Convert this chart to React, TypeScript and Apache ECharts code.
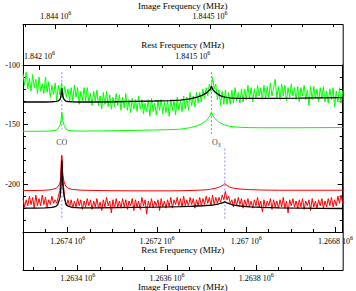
import React, { useEffect, useRef } from "react";
import * as echarts from "echarts";

const W = 356;
const H = 291;
const FONT = "Liberation Serif";
const INK = "#000000";
const GREEN = "#00ff00";
const RED = "#ff0000";
const BLACK = "#000000";
const MARK_BLUE = "#8a8aff";

// ---- axes (MHz for x, intensity for y) ----
const REST_LOW_RANGE = [1266784, 1267500];
const IMAGE_LOW_RANGE = [1263277.5, 1263993.5];
const REST_HIGH_RANGE = [1841010, 1842054];
const IMAGE_HIGH_RANGE = [1843894, 1844930];
const REST_LOW_MAJOR = [1267400, 1267200, 1267000, 1266800];
const IMAGE_LOW_MAJOR = [1263400, 1263600, 1263800];
const REST_HIGH_MAJOR = [1842000, 1841500];
const IMAGE_HIGH_MAJOR = [1844000, 1844500];
const REST_LOW_STEP = 50;
const IMAGE_LOW_STEP = 50;
const REST_HIGH_STEP = 100;
const IMAGE_HIGH_STEP = 100;
const Y_RANGE = [-240, -100];
const Y_MAJOR = [-200, -150, -100];
const Y_STEP = 10;

// ---- line identifications (rest frequency, lower axis) ----
const CO_FREQ = 1267413;
const O3_FREQ = 1267078;
const O3_IMAGE_FREQ = 1267048;
const CO_MARK_UPPER = [-106, -154];
const CO_MARK_LOWER = [-176, -230];
const O3_MARK_UPPER = [-106, -159];
const O3_MARK_LOWER = [-170, -230];
const LABEL_Y = -164.7;

// ---- smooth curves, sampled on a shared frequency list ----
const SMOOTH_F = [
  1267500, 1267473, 1267451, 1267435, 1267426, 1267422, 1267417, 1267415, 1267413, 1267411,
  1267408, 1267404, 1267399, 1267390, 1267372, 1267339, 1267294, 1267249, 1267205, 1267171,
  1267148, 1267126, 1267110, 1267099, 1267090, 1267086, 1267081, 1267078, 1267075, 1267070,
  1267063, 1267057, 1267052, 1267048, 1267043, 1267037, 1267028, 1267014, 1266992, 1266965,
  1266925, 1266880, 1266835, 1266784,
];
const BLACK_UPPER = [
  -131, -131, -131, -130.8, -130.5, -130.2, -129, -126, -119.5, -126,
  -129, -130.3, -130.6, -130.8, -131, -131, -130.8, -130.5, -130.2, -129.8,
  -129.4, -128.4, -127, -125.5, -123.6, -122.3, -120.6, -117.8, -120.4, -122.6,
  -124.6, -125.9, -126.5, -126.9, -127.2, -127.5, -127.8, -128, -128, -128,
  -127.9, -127.8, -127.6, -127.4,
];
const GREEN_SMOOTH = [
  -155.6, -155.6, -155.5, -155.2, -154.6, -153.6, -150.5, -146.5, -139.7, -146.5,
  -150.5, -153.6, -154.7, -155.2, -155.4, -155.3, -155.1, -154.8, -154.5, -154.2,
  -153.8, -152.6, -151, -149.2, -146.8, -145, -142.6, -139.2, -142.4, -144.8,
  -147.3, -148.9, -149.7, -150.3, -150.8, -151.3, -151.8, -152.2, -152.5, -152.6,
  -152.6, -152.6, -152.5, -152.4,
];
const RED_SMOOTH = [
  -205.3, -205.2, -205, -204.4, -203.4, -202.2, -199, -194, -176, -192,
  -198, -201.8, -203.3, -204.3, -204.9, -205.2, -205.4, -205.5, -205.5, -205.5,
  -205.4, -205.2, -205, -204.8, -204.6, -204.4, -204.2, -204, -203.8, -203.4,
  -202.7, -201.7, -200.8, -199.4, -201, -202.4, -203.3, -204, -204.5, -204.8,
  -205, -205, -205, -205,
];
const BLACK_LOWER = [
  -220, -220, -219.8, -219.4, -218.5, -216.8, -211, -202, -180, -200,
  -210, -216.5, -218.4, -219.3, -219.7, -219.8, -219.6, -219.4, -219.2, -219,
  -218.8, -218.5, -218.2, -218, -217.8, -217.7, -217.6, -217.5, -217.4, -217.1,
  -216.6, -215.9, -215.4, -214.8, -215.6, -216.5, -217.4, -218.2, -218.9, -219.4,
  -219.8, -220, -220.2, -220.3,
];

// ---- observed (noisy) spectra, evenly spaced channels from 1267500 to 1266784 MHz ----
const CHANNEL_F_START = 1267500;
const CHANNEL_F_END = 1266784;
const GREEN_NOISE = [
  -107, -117, -106, -120, -111, -122, -108, -119, -112, -124,
  -110, -122, -116, -124, -110, -123, -114, -127, -117, -125,
  -115, -130, -117, -125, -115, -128, -118, -127, -120, -130,
  -119, -130, -117, -127, -119, -133, -122, -130, -119, -130,
  -119, -131, -124, -134, -122, -130, -121, -134, -126, -137,
  -123, -133, -122, -135, -125, -137, -127, -135, -124, -134,
  -125, -138, -127, -136, -124, -138, -129, -140, -128, -137,
  -129, -139, -126, -137, -129, -141, -132, -139, -129, -143,
  -128, -139, -132, -142, -130, -138, -129, -141, -131, -140,
  -130, -143, -129, -138, -130, -142, -127, -138, -130, -139,
  -126, -137, -127, -138, -123, -134, -126, -135, -123, -132,
  -123, -131, -120, -128, -119, -126, -116, -122, -110, -120,
  -116, -129, -121, -134, -122, -133, -121, -133, -123, -133,
  -121, -132, -119, -130, -123, -132, -120, -131, -120, -129,
  -117, -128, -119, -131, -120, -128, -117, -126, -119, -129,
  -117, -128, -118, -127, -115, -126, -119, -112, -128, -118,
  -129, -116, -126, -117, -130, -119, -127, -116, -126, -119,
  -129, -118, -131, -119, -126, -117, -129, -121, -134, -118,
  -129, -118, -128, -120, -131, -119, -128, -118, -131, -122,
  -132, -120, -129, -119, -135, -122, -131, -119, -132, -122,
];
const RED_NOISE = [
  -212, -219, -213, -218, -210, -217, -211, -220, -209, -218,
  -212, -218, -209, -217, -211, -219, -213, -217, -210, -216,
  -213, -216, -210, -205, -176, -198, -212, -218, -213, -219,
  -213, -220, -214, -219, -212, -218, -213, -221, -214, -219,
  -212, -218, -213, -221, -214, -219, -212, -220, -215, -222,
  -213, -219, -211, -218, -214, -224, -213, -220, -212, -219,
  -214, -220, -212, -219, -213, -221, -214, -218, -212, -222,
  -213, -219, -214, -221, -211, -218, -213, -225, -214, -219,
  -212, -220, -214, -218, -213, -222, -212, -219, -214, -220,
  -213, -219, -211, -220, -213, -217, -211, -218, -212, -219,
  -210, -218, -213, -219, -211, -217, -212, -220, -213, -218,
  -211, -218, -212, -217, -210, -216, -211, -218, -209, -217,
  -211, -216, -211, -215, -209, -213, -206, -213, -210, -216,
  -213, -219, -212, -218, -211, -217, -212, -220, -213, -218,
  -212, -219, -214, -220, -213, -218, -211, -219, -214, -223,
  -213, -220, -214, -218, -212, -221, -213, -219, -214, -220,
  -213, -219, -211, -220, -214, -224, -213, -218, -212, -219,
  -214, -220, -213, -219, -212, -221, -214, -218, -213, -222,
  -212, -219, -214, -220, -213, -218, -212, -220, -214, -219,
  -212, -218, -211, -219, -213, -218, -210, -216, -209, -216,
];

// ---- layout ----
const GRID = { left: 23, right: 13.3, top: 65, bottom: 59 };
const TOP_OFFSET = 41;
const BOTTOM_OFFSET = 38;

function ticksBetween(range: number[], step: number): number[] {
  const out: number[] = [];
  const lo = Math.min(range[0], range[1]);
  const hi = Math.max(range[0], range[1]);
  for (let v = Math.ceil(lo / step) * step; v <= hi + 1e-9; v += step) out.push(v);
  return out;
}

const mantissa = (v: number) => String(Number((v / 1e6).toFixed(5)));

const labelRich = {
  m: { fontFamily: FONT, fontSize: 8, color: INK, lineHeight: 12 },
  e: { fontFamily: FONT, fontSize: 6, color: INK, lineHeight: 7, verticalAlign: "top" },
};

function freqAxes(cfg: {
  range: number[];
  majors: number[];
  step: number;
  position: "top" | "bottom";
  offset: number;
  inverse: boolean;
  name: string;
  nameGap: number;
  labelMargin: number;
}) {
  const common = {
    type: "value",
    gridIndex: 0,
    position: cfg.position,
    offset: cfg.offset,
    inverse: cfg.inverse,
    min: cfg.range[0],
    max: cfg.range[1],
    splitLine: { show: false },
    minorTick: { show: false },
    minorSplitLine: { show: false },
    axisPointer: { show: false },
    silent: true,
  };
  const major = {
    ...common,
    name: cfg.name,
    nameLocation: "middle",
    nameGap: cfg.nameGap,
    nameMoveOverlap: false,
    nameTextStyle: { fontFamily: FONT, fontSize: 9, color: INK },
    axisLine: { show: true, onZero: false, lineStyle: { color: INK, width: 1 } },
    axisTick: { show: true, inside: true, length: 5, customValues: cfg.majors, lineStyle: { color: INK, width: 1 } },
    axisLabel: {
      show: true,
      customValues: cfg.majors,
      margin: cfg.labelMargin,
      formatter: (v: number) => `{m|${mantissa(v)} 10}{e|6}`,
      rich: labelRich,
    },
  };
  const minor = {
    ...common,
    axisLine: { show: false, onZero: false },
    axisTick: { show: true, inside: true, length: 3, customValues: ticksBetween(cfg.range, cfg.step), lineStyle: { color: INK, width: 1 } },
    axisLabel: { show: false },
  };
  return [major, minor];
}

function yAxes(position: "left" | "right", withLabels: boolean) {
  const common = {
    type: "value",
    gridIndex: 0,
    position,
    min: Y_RANGE[0],
    max: Y_RANGE[1],
    splitLine: { show: false },
    axisPointer: { show: false },
    silent: true,
  };
  return [
    {
      ...common,
      axisLine: { show: true, onZero: false, lineStyle: { color: INK, width: 1 } },
      axisTick: { show: true, inside: true, length: 5, customValues: Y_MAJOR, lineStyle: { color: INK, width: 1 } },
      axisLabel: withLabels
        ? { show: true, customValues: Y_MAJOR, margin: 3, fontFamily: FONT, fontSize: 8, color: INK }
        : { show: false },
    },
    {
      ...common,
      axisLine: { show: false, onZero: false },
      axisTick: { show: true, inside: true, length: 3, customValues: ticksBetween(Y_RANGE, Y_STEP), lineStyle: { color: INK, width: 1 } },
      axisLabel: { show: false },
    },
  ];
}

const zipSmooth = (vals: number[]) => SMOOTH_F.map((f, i) => [f, vals[i]]);
const zipChannels = (vals: number[]) =>
  vals.map((v, i) => [CHANNEL_F_START + ((CHANNEL_F_END - CHANNEL_F_START) * i) / (vals.length - 1), v]);

function lineSeries(data: number[][], color: string, width: number, extra: any = {}) {
  return {
    type: "line",
    xAxisIndex: 0,
    yAxisIndex: 0,
    data,
    showSymbol: false,
    symbol: "none",
    silent: true,
    lineStyle: { color, width },
    ...extra,
  };
}

function markSeries(freq: number, span: number[]) {
  return lineSeries(
    [
      [freq, span[0]],
      [freq, span[1]],
    ],
    MARK_BLUE,
    1,
    { lineStyle: { color: MARK_BLUE, width: 1, type: [2, 2] } }
  );
}

export default function App() {
  const ref = useRef<HTMLDivElement>(null);
  useEffect(() => {
    document.body.style.margin = "0";
    if (!ref.current) return;
    const chart = echarts.init(ref.current, undefined, { renderer: "svg" });
    const plotW = W - GRID.left - GRID.right;
    const plotH = H - GRID.top - GRID.bottom;
    const option: any = {
      animation: false,
      backgroundColor: "#ffffff",
      grid: { ...GRID, containLabel: false, outerBoundsMode: "none" },
      xAxis: [
        ...freqAxes({ range: REST_LOW_RANGE, majors: REST_LOW_MAJOR, step: REST_LOW_STEP, position: "bottom", offset: 0, inverse: true, name: "Rest Frequency (MHz)", nameGap: 13, labelMargin: 3 }),
        ...freqAxes({ range: IMAGE_LOW_RANGE, majors: IMAGE_LOW_MAJOR, step: IMAGE_LOW_STEP, position: "bottom", offset: BOTTOM_OFFSET, inverse: false, name: "Image Frequency (MHz)", nameGap: 12, labelMargin: 2 }),
        ...freqAxes({ range: REST_HIGH_RANGE, majors: REST_HIGH_MAJOR, step: REST_HIGH_STEP, position: "top", offset: 0, inverse: true, name: "Rest Frequency (MHz)", nameGap: 16, labelMargin: 3 }),
        ...freqAxes({ range: IMAGE_HIGH_RANGE, majors: IMAGE_HIGH_MAJOR, step: IMAGE_HIGH_STEP, position: "top", offset: TOP_OFFSET, inverse: false, name: "Image Frequency (MHz)", nameGap: 14, labelMargin: 2 }),
      ],
      yAxis: [...yAxes("left", true), ...yAxes("right", false)],
      graphic: [
        {
          type: "rect",
          silent: true,
          shape: { x: GRID.left + 0.5, y: GRID.top - TOP_OFFSET + 0.5, width: plotW, height: plotH + TOP_OFFSET + BOTTOM_OFFSET },
          style: { fill: "none", stroke: INK, lineWidth: 1 },
        },
      ],
      series: [
        markSeries(CO_FREQ, CO_MARK_UPPER),
        markSeries(CO_FREQ, CO_MARK_LOWER),
        markSeries(O3_FREQ, O3_MARK_UPPER),
        markSeries(O3_IMAGE_FREQ, O3_MARK_LOWER),
        lineSeries(zipChannels(GREEN_NOISE), GREEN, 1),
        lineSeries(zipSmooth(BLACK_UPPER), BLACK, 1.3),
        lineSeries(zipSmooth(GREEN_SMOOTH), GREEN, 1),
        lineSeries(zipSmooth(RED_SMOOTH), RED, 1),
        lineSeries(zipChannels(RED_NOISE), RED, 1),
        lineSeries(zipSmooth(BLACK_LOWER), BLACK, 1.3),
        {
          type: "scatter",
          xAxisIndex: 0,
          yAxisIndex: 0,
          symbolSize: 0,
          silent: true,
          data: [[CO_FREQ, LABEL_Y]],
          label: { show: true, position: "inside", formatter: "CO", fontFamily: FONT, fontSize: 8, color: INK },
        },
        {
          type: "scatter",
          xAxisIndex: 0,
          yAxisIndex: 0,
          symbolSize: 0,
          silent: true,
          data: [[O3_FREQ, LABEL_Y]],
          label: {
            show: true,
            position: "inside",
            offset: [5, 0],
            formatter: "{a|O}{b|3}",
            rich: {
              a: { fontFamily: FONT, fontSize: 8, color: INK, lineHeight: 12 },
              b: { fontFamily: FONT, fontSize: 6, color: INK, lineHeight: 7, verticalAlign: "bottom" },
            },
          },
        },
      ],
    };
    chart.setOption(option);
    return () => chart.dispose();
  }, []);
  return <div ref={ref} style={{ width: W, height: H }} />;
}
